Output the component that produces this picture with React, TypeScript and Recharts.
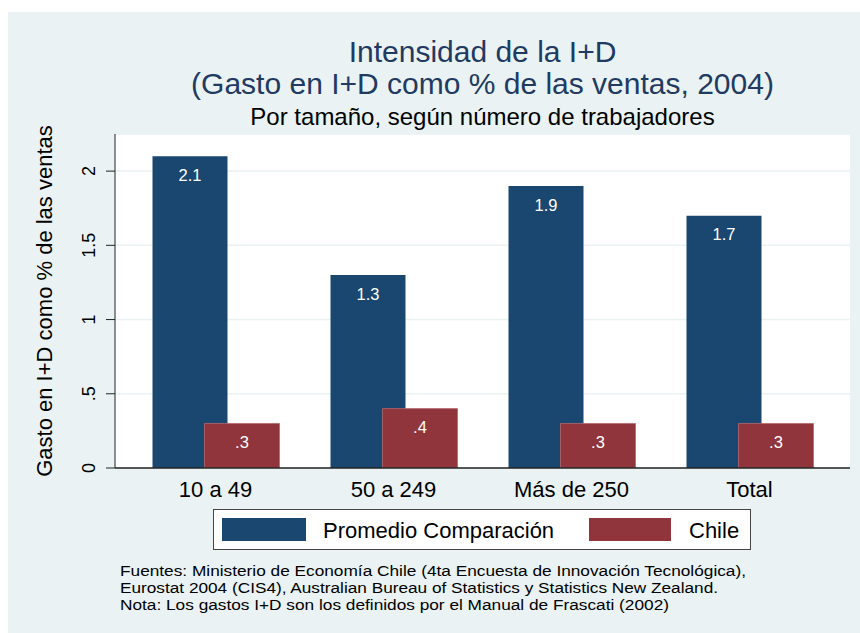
import React from 'react';
import { BarChart, Bar, XAxis, YAxis, CartesianGrid, LabelList } from 'recharts';

const categories = ['10 a 49', '50 a 249', 'Más de 250', 'Total'];
const promedioComparacion = [2.1, 1.3, 1.9, 1.7];
const chileValues = [0.3, 0.4, 0.3, 0.3];
const yTicks = [0, 0.5, 1, 1.5, 2];
const seriesNames = ['Promedio Comparación', 'Chile'];
const titleLines = ['Intensidad de la I+D', '(Gasto en I+D como % de las ventas, 2004)'];
const subtitle = 'Por tamaño, según número de trabajadores';
const yLabel = 'Gasto en I+D como % de las ventas';
const notes = [
  'Fuentes: Ministerio de Economía Chile (4ta Encuesta de Innovación Tecnológica),',
  'Eurostat 2004 (CIS4), Australian Bureau of Statistics y Statistics New Zealand.',
  'Nota: Los gastos I+D son los definidos por el Manual de Frascati (2002)',
];
const noteWidths = [626, 598, 549];

const data = categories.map((c, i) => ({
  category: c,
  promedio: promedioComparacion[i],
  chile: chileValues[i],
}));

const FONT = '"Liberation Sans", Arial, Helvetica, sans-serif';
const BLUE = '#1a476f';
const RED = '#90353b';
const BG = '#eaf2f3';

const fmt = (v: any) => {
  const s = String(v);
  return s.replace(/^0\./, '.');
};

const YTick = (props: any) => {
  const { x, y, payload } = props;
  return (
    <text
      transform={`translate(${x},${y}) rotate(-90)`}
      textAnchor="middle"
      fontSize={18}
      fill="#000"
      fontFamily={FONT}
    >
      {fmt(payload.value)}
    </text>
  );
};

export default function App() {
  return (
    <div style={{ position: 'absolute', left: 0, top: 0, width: 860, height: 633, background: '#fff' }}>
      <div style={{ position: 'absolute', left: 8, top: 12, width: 852, height: 621, background: BG }} />
      <div style={{ position: 'absolute', left: 0, top: 0 }}>
        <BarChart
          width={860}
          height={633}
          data={data}
          margin={{ top: 134, right: 10, bottom: 125, left: 0 }}
          barSize={75}
          barGap={-23}
        >
          <CartesianGrid
            vertical={false}
            horizontal
            stroke={BG}
            strokeWidth={1.5}
            fill="#ffffff"
            fillOpacity={1}
          />
          <XAxis
            dataKey="category"
            height={40}
            padding={{ left: 11.5, right: 11.5 }}
            tickLine={false}
            tickSize={0}
            tickMargin={13}
            axisLine={{ stroke: '#222', strokeWidth: 1.3 }}
            tick={{ fontSize: 22, fill: '#000', fontFamily: FONT }}
            interval={0}
          />
          <YAxis
            width={115}
            domain={[0, 2.25]}
            ticks={yTicks}
            allowDataOverflow
            tickSize={9}
            tickMargin={11}
            tickLine={{ stroke: '#222' }}
            axisLine={{ stroke: '#222' }}
            tick={<YTick />}
          />
          <Bar dataKey="promedio" name={seriesNames[0]} fill={BLUE} isAnimationActive={false}>
            <LabelList
              dataKey="promedio"
              position="insideTop"
              offset={13}
              fill="#ffffff"
              fontSize={16.5}
              fontFamily={FONT}
              formatter={fmt}
            />
          </Bar>
          <Bar dataKey="chile" name={seriesNames[1]} fill={RED} stroke="#b26a70" strokeWidth={0.8} isAnimationActive={false}>
            <LabelList
              dataKey="chile"
              position="insideTop"
              offset={13}
              fill="#ffffff"
              fontSize={16.5}
              fontFamily={FONT}
              formatter={fmt}
            />
          </Bar>
        </BarChart>
      </div>
      <svg
        width={860}
        height={633}
        style={{ position: 'absolute', left: 0, top: 0, pointerEvents: 'none' }}
        fontFamily={FONT}
      >
        <text x={482.5} y={62} textAnchor="middle" fontSize={30} fill="#213a62">
          {titleLines[0]}
        </text>
        <text x={482.5} y={94} textAnchor="middle" fontSize={30} fill="#213a62">
          {titleLines[1]}
        </text>
        <text x={482.5} y={125} textAnchor="middle" fontSize={24} fill="#000">
          {subtitle}
        </text>
        <text transform="translate(52,301) rotate(-90)" textAnchor="middle" fontSize={22} fill="#000">
          {yLabel}
        </text>
        <rect x={213.5} y={509.5} width={537} height={40} fill="#fff" stroke="#444" strokeWidth={1} />
        <rect x={222} y={518} width={84} height={23} fill={BLUE} />
        <text x={323} y={537.5} fontSize={22} fill="#000">
          {seriesNames[0]}
        </text>
        <rect x={589} y={518} width={82} height={23} fill={RED} />
        <text x={689} y={537.5} fontSize={22} fill="#000">
          {seriesNames[1]}
        </text>
        {notes.map((n, i) => (
          <text
            key={i}
            x={120}
            y={575.5 + i * 17}
            fontSize={15.5}
            fill="#000"
            textLength={noteWidths[i]}
            lengthAdjust="spacingAndGlyphs"
          >
            {n}
          </text>
        ))}
      </svg>
    </div>
  );
}
